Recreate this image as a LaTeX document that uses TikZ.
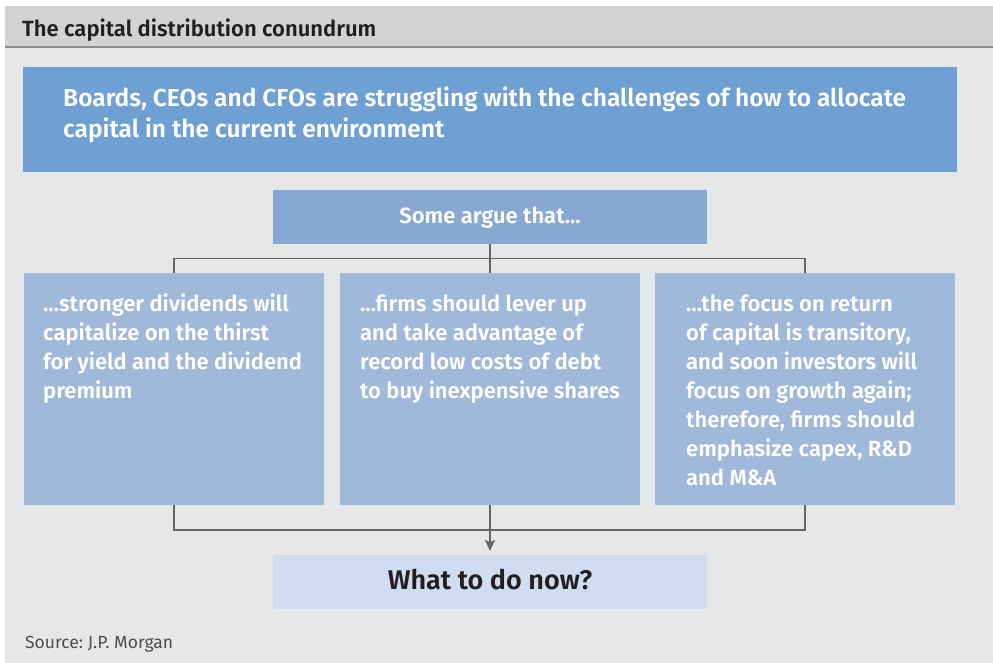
\documentclass[tikz,border=0pt]{standalone}
\usepackage{fontspec}
\setmainfont{Fira Sans}[BoldFont={Fira Sans SemiBold}]
\usetikzlibrary{arrows.meta}
\usetikzlibrary{calc}

\definecolor{panelgray}{HTML}{E6E7E9}
\definecolor{headgray}{HTML}{D3D3D4}
\definecolor{rulegray}{HTML}{8C8C8C}
\definecolor{topblue}{HTML}{6FA0D4}
\definecolor{someblue}{HTML}{86A8D3}
\definecolor{argblue}{HTML}{A0B8DA}
\definecolor{whatblue}{HTML}{D0DDF0}
\definecolor{linkgray}{HTML}{666666}
\definecolor{darktext}{HTML}{231F20}

\begin{document}
\frenchspacing
\begin{tikzpicture}[x=1pt,y=-1pt]
\tikzset{panel/.style={inner sep=0pt, outer sep=0pt, anchor=north west}}
\tikzset{argbox/.style={panel, fill=argblue, minimum width=300pt, minimum height=232pt}}
\tikzset{argtext/.style={anchor=base west, inner sep=0pt, align=left, text=white, font=\bfseries\fontsize{22}{29}\selectfont}}
\tikzset{link/.style={draw=linkgray, line width=1.5pt}}
\useasboundingbox (0,0) rectangle (993,663);
\fill[panelgray] (5,6) rectangle (993,663);
\fill[headgray] (5,6) rectangle (993,47);
\draw[rulegray, line width=2pt] (5,47) -- (993,47);
\node[anchor=base west, inner sep=0pt, text=darktext, font=\bfseries\fontsize{22}{26}\selectfont] (title) at (22,37) {The capital distribution conundrum};

\node[panel, fill=topblue, minimum width=934pt, minimum height=105pt] (boards) at (23,67) {};
\node[argtext, font=\bfseries\fontsize{24.5}{31}\selectfont] (boardstext) at (63,137.5) {Boards, CEOs and CFOs are struggling with the challenges of how to allocate\\capital in the current environment};

\node[panel, fill=someblue, minimum width=434pt, minimum height=54pt] (some) at (273,190) {};
\node[anchor=base, inner sep=0pt, text=white, font=\bfseries\fontsize{22}{24}\selectfont] (sometext) at (490,223.5) {Some argue that...};

\node[argbox] (left) at (24,273) {};
\node[argbox] (mid) at (340,273) {};
\node[argbox] (right) at (655,273) {};
% multi-line text sits on the baseline of its last line
\node[argtext] (lefttext) at (43,398.5) {...stronger dividends will\\capitalize on the thirst\\for yield and the dividend\\premium};
\node[argtext] (midtext) at (360,398.5) {...firms should lever up\\and take advantage of\\record low costs of debt\\to buy inexpensive shares};
\node[argtext] (righttext) at (686,485.5) {...the focus on return\\of capital is transitory,\\and soon investors will\\focus on growth again;\\therefore, firms should\\emphasize capex, R\&D\\and M\&A};

\node[panel, fill=whatblue, minimum width=434pt, minimum height=54pt] (what) at (273,555) {};
\node[anchor=base, inner sep=0pt, text=darktext, font=\bfseries\fontsize{27}{30}\selectfont] (whattext) at (490,589) {What to do now?};

\draw[link] (some.south) -- (mid.north);
\draw[link] (left.north) |- ($(some.south)!.5!(mid.north)$) -| (right.north);
\draw[link] (left.south) |- ($(mid.south)!.5!(mid.south |- what.north)$) -| (right.south);
\draw[link, -{Stealth[length=11pt, width=10pt, inset=2pt]}, shorten >=4pt] (mid.south) -- (what.north);

\node[anchor=base west, inner sep=0pt, text=darktext!80, font=\fontsize{17.5}{20}\selectfont] (source) at (25,648) {Source: J.P. Morgan};
\end{tikzpicture}
\end{document}
